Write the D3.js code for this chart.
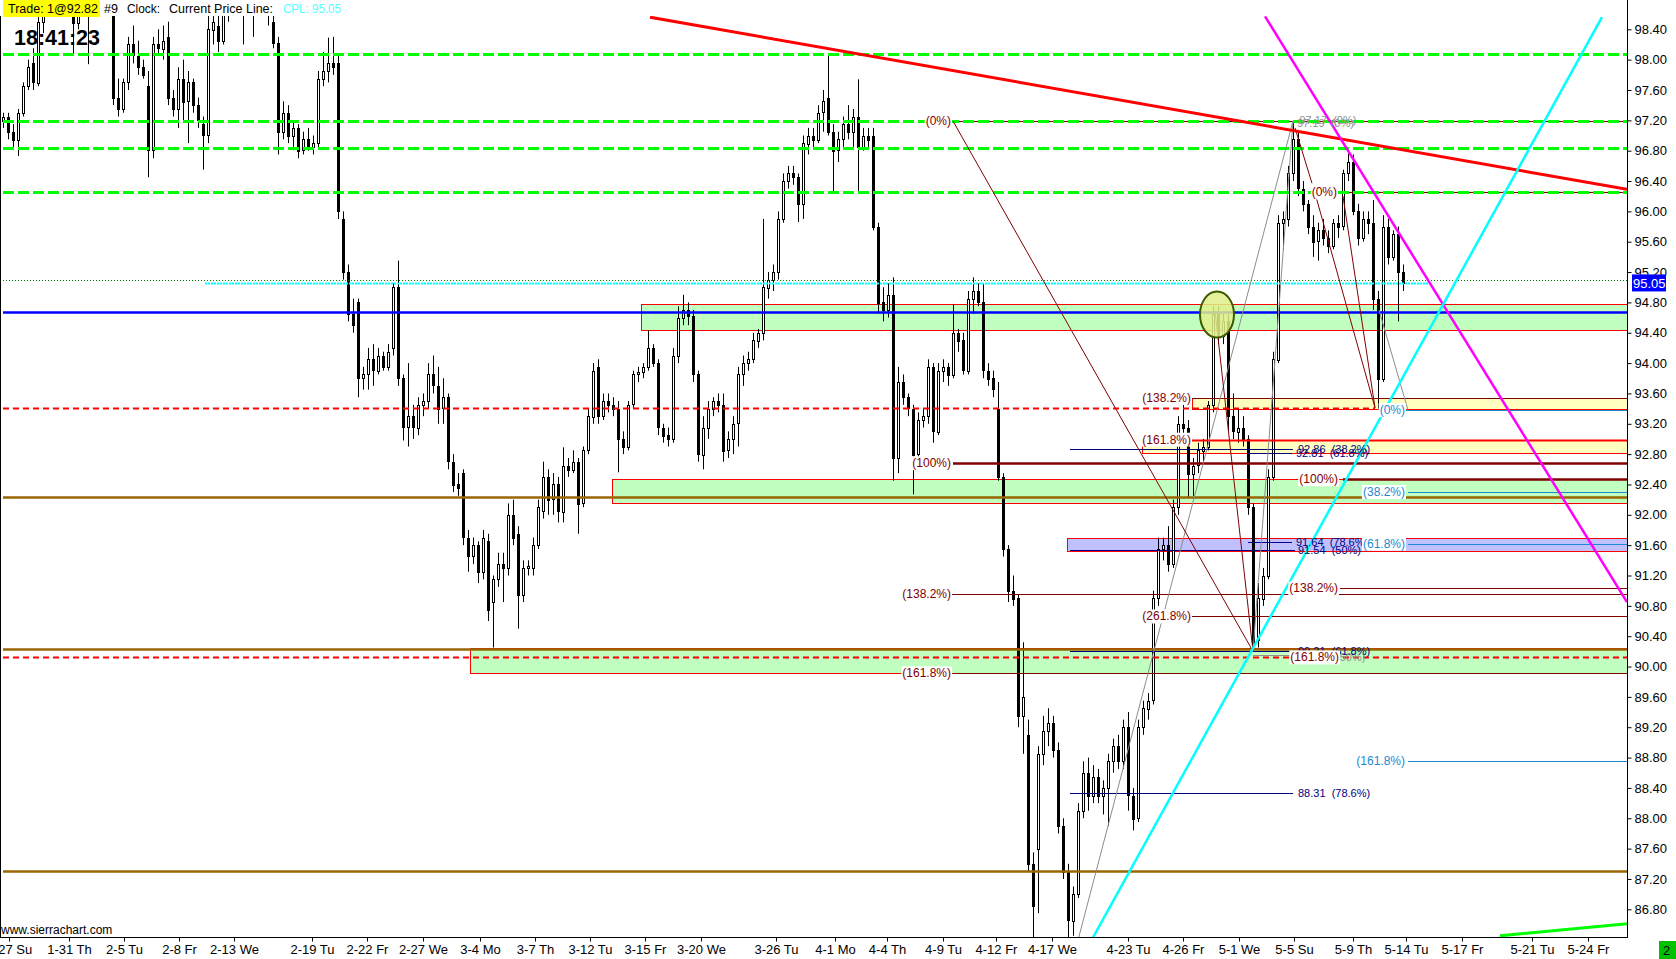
<!DOCTYPE html>
<meta charset="utf-8">
<script src="https://d3js.org/d3.v7.min.js"></script>
<style>
  body { margin: 0; background: #fff; }
  text { font-family: "Liberation Sans", Arial, sans-serif; }
</style>
<body>
<div id="chart"></div>
<script>

// candles, one per bar (prices)
var opens = [97.20,97.25,97.05,96.95,97.30,97.65,97.95,97.70,98.50,98.75,98.90,99.00,99.10,98.95,98.65,98.48,98.85,98.95,98.70,98.90,
99.05,99.00,98.80,97.50,97.35,97.70,98.20,98.05,97.90,97.65,96.80,98.20,98.15,98.30,97.50,97.35,97.75,97.45,97.70,97.40,
97.15,97.00,98.40,98.45,98.25,98.70,98.85,99.05,98.95,98.80,99.00,98.75,98.90,98.85,98.50,98.22,97.05,97.30,97.00,97.10,
96.80,96.95,96.85,96.90,97.75,97.85,97.95,97.95,95.90,95.20,94.65,94.80,93.80,93.85,94.05,93.90,94.10,93.95,94.20,95.00,
93.80,93.15,93.30,93.15,93.45,93.50,93.85,93.70,93.40,93.55,92.70,92.40,92.55,91.70,91.46,91.60,91.25,91.65,90.85,91.15,
91.35,91.30,92.00,91.75,90.95,91.30,91.30,91.60,92.05,92.50,92.20,92.40,92.05,92.65,92.60,92.70,92.15,92.85,93.30,93.95,
93.30,93.50,93.45,93.40,93.00,92.90,93.45,93.85,93.88,93.95,94.20,94.00,93.15,93.05,93.00,94.10,94.60,94.70,94.62,93.85,
92.80,93.15,93.40,93.50,93.45,92.85,93.00,93.20,93.85,94.00,94.05,94.30,94.40,95.00,95.10,95.20,95.90,96.40,96.50,96.45,
96.10,96.90,97.00,96.95,97.30,97.50,97.05,96.80,96.95,97.15,97.05,97.25,96.85,97.00,97.00,95.80,94.80,94.70,94.90,92.75,
93.75,93.55,93.40,92.80,93.25,93.30,93.95,93.10,93.90,93.95,93.85,94.40,94.30,93.90,94.85,94.95,94.80,93.90,93.80,93.40,
92.50,91.55,91.00,90.90,89.35,89.10,87.40,87.60,88.85,89.15,89.25,88.90,87.90,87.30,86.65,87.00,88.10,88.60,88.30,88.55,
88.30,88.40,88.75,88.95,88.75,89.20,88.30,88.00,89.20,89.45,89.55,90.90,91.55,91.60,91.35,92.10,93.20,93.15,92.55,92.65,
92.85,92.90,93.45,94.65,94.35,94.55,93.30,93.10,93.15,93.00,92.10,90.35,90.90,91.20,92.50,94.05,95.85,95.90,96.50,96.95,
96.30,96.10,95.80,95.60,95.75,95.65,95.55,95.85,95.80,96.50,96.65,96.00,95.65,95.90,95.85,94.85,93.80,95.80,95.40,95.70,
95.20]
var highs = [97.30,97.30,97.15,97.35,97.70,98.00,98.15,98.60,98.90,99.10,99.20,99.30,99.20,99.15,98.80,98.95,99.10,99.05,99.00,99.20,
99.30,99.10,98.90,97.75,97.75,98.30,98.45,98.25,98.00,97.85,98.30,98.40,98.45,98.50,97.60,97.90,98.00,97.85,97.75,97.50,
97.25,98.60,98.75,98.60,98.80,99.00,99.20,99.25,99.10,99.15,99.20,99.05,99.10,98.95,98.65,98.30,97.45,97.40,97.20,97.15,
97.05,97.10,97.00,97.85,98.10,98.29,98.30,98.05,96.00,95.30,94.85,94.85,93.95,94.20,94.25,94.20,94.15,94.25,95.05,95.35,
93.85,94.00,93.45,93.55,93.60,94.00,94.10,93.95,93.80,93.60,92.80,92.55,92.60,91.80,91.70,91.65,91.80,91.75,91.20,91.50,
91.50,92.15,92.20,91.85,91.40,91.40,91.70,92.20,92.70,92.60,92.55,92.50,92.89,92.75,92.85,92.75,92.90,93.40,94.00,94.05,
93.60,93.60,93.55,93.50,93.10,93.50,93.90,93.95,94.00,94.43,94.25,94.05,93.20,93.15,94.20,94.75,94.90,94.80,94.70,93.90,
93.30,93.50,93.55,93.60,93.60,93.10,93.30,93.95,94.10,94.15,94.40,94.45,95.90,95.20,95.30,96.00,96.50,96.60,96.60,96.50,
97.00,97.10,97.10,97.40,97.60,98.05,97.15,97.05,97.25,97.40,97.35,97.74,97.10,97.10,97.10,95.85,95.00,95.05,95.13,93.95,
93.85,93.60,93.45,93.35,93.40,94.05,94.00,94.00,94.05,94.00,94.78,94.45,94.40,94.95,95.13,95.05,95.05,94.00,93.90,93.75,
92.55,91.60,91.20,90.95,90.32,89.30,87.55,88.95,89.35,89.45,89.35,89.00,88.00,87.40,87.10,88.20,88.75,88.80,88.70,88.65,
88.50,88.85,89.05,89.10,89.30,89.40,88.40,89.30,89.55,89.65,91.00,91.70,91.70,91.85,92.20,93.30,93.45,93.25,92.75,92.95,
93.00,93.50,94.75,94.75,94.65,94.65,93.60,93.40,93.30,93.05,92.15,91.10,91.30,92.60,94.15,95.95,96.00,96.60,97.19,97.05,
96.40,96.15,95.95,95.85,95.90,95.75,95.90,95.95,96.55,96.76,96.75,96.10,96.00,96.00,96.15,94.95,95.95,95.90,95.75,95.80,
95.30]
var lows = [97.10,96.95,96.85,96.73,97.25,97.60,97.60,97.65,98.35,98.62,98.65,98.70,98.80,98.70,98.07,98.40,98.70,97.94,98.60,98.75,
98.85,98.60,97.40,97.25,97.30,97.60,97.95,97.80,97.75,96.45,96.70,98.05,98.00,97.40,97.25,97.10,97.20,96.90,97.30,97.10,
96.55,96.90,98.20,98.10,98.20,98.50,98.70,98.80,98.20,98.65,98.30,98.60,98.70,98.45,98.15,96.75,96.95,96.90,96.85,96.70,
96.75,96.80,96.75,96.85,97.65,97.70,97.80,95.90,95.10,94.55,94.40,93.55,93.65,93.65,93.70,93.85,93.90,93.90,94.10,93.70,
92.98,92.90,93.00,93.05,93.30,93.40,93.60,93.20,93.20,92.60,92.30,92.25,91.60,91.25,91.35,91.10,91.15,90.60,90.25,91.05,
90.85,91.20,91.60,90.50,90.85,91.20,91.20,91.55,91.95,92.00,92.00,91.90,91.90,92.50,92.55,91.75,92.10,92.80,93.20,93.20,
93.25,93.35,93.30,92.56,92.80,92.85,93.40,93.75,93.80,93.90,93.95,93.05,92.95,92.90,92.95,94.00,94.50,94.50,93.75,92.70,
92.60,93.00,93.30,93.35,92.70,92.75,92.80,92.90,93.70,93.90,94.00,94.20,94.30,94.85,94.95,95.10,95.85,96.30,96.35,95.86,
95.90,96.75,96.85,96.90,97.05,97.00,96.23,96.65,96.85,96.95,96.85,96.27,96.80,96.85,95.75,94.65,94.55,94.60,92.45,92.55,
93.45,93.30,92.27,92.70,93.15,93.20,92.95,93.05,93.75,93.70,93.80,94.15,93.85,93.85,94.65,94.75,93.80,93.70,93.55,92.45,
91.45,90.85,90.80,89.20,88.85,87.30,86.20,86.75,88.70,88.95,88.80,87.80,87.20,85.89,86.45,86.95,88.00,88.10,88.20,88.20,
88.05,87.90,88.60,88.65,88.65,88.10,87.84,87.95,89.10,89.30,89.50,90.80,91.40,91.25,91.30,92.00,93.05,92.22,92.25,92.55,
92.70,92.85,93.35,94.25,94.25,93.10,93.00,92.95,92.90,92.00,90.20,90.25,90.80,91.15,92.45,94.00,95.50,95.80,96.40,96.20,
96.00,95.70,95.40,95.35,95.55,95.45,95.50,95.65,95.75,96.40,95.95,95.55,95.60,95.70,94.70,93.40,93.75,95.30,95.35,94.55,
94.95]
var closes = [97.25,97.05,96.95,97.30,97.65,97.90,97.70,98.50,98.75,98.90,99.00,99.10,98.95,99.05,98.48,98.85,98.95,98.70,98.90,99.05,
99.00,98.80,97.50,97.35,97.70,98.20,98.05,97.90,97.80,96.80,98.20,98.15,98.25,97.50,97.35,97.75,97.45,97.70,97.40,97.20,
97.00,98.40,98.50,98.25,98.70,98.85,99.05,98.95,98.80,99.00,98.75,98.90,98.85,98.60,98.22,97.05,97.30,97.00,97.10,96.80,
96.95,96.85,96.90,97.75,97.85,97.95,97.90,96.00,95.20,94.65,94.50,93.80,93.85,94.05,93.90,94.10,93.95,94.15,95.00,93.80,
93.15,93.30,93.15,93.45,93.50,93.85,93.70,93.40,93.55,92.70,92.40,92.35,91.70,91.46,91.60,91.25,91.70,90.74,91.15,91.35,
91.30,92.00,91.70,90.95,91.30,91.32,91.60,92.10,92.50,92.20,92.40,92.05,92.65,92.60,92.70,92.15,92.85,93.30,93.90,93.30,
93.50,93.45,93.40,93.00,92.90,93.45,93.85,93.88,93.95,94.20,94.00,93.15,93.05,93.00,94.10,94.60,94.70,94.62,93.85,92.80,
93.15,93.40,93.50,93.45,92.85,93.00,93.20,93.85,94.00,94.05,94.30,94.40,95.00,95.10,95.20,95.90,96.40,96.50,96.45,96.10,
96.90,97.00,96.95,97.30,97.45,97.05,96.80,96.95,97.15,97.05,97.25,96.85,97.00,96.95,95.80,94.80,94.70,94.90,92.75,93.75,
93.55,93.40,92.80,93.25,93.30,93.95,93.10,93.90,93.95,93.85,94.40,94.30,93.90,94.85,94.95,94.80,93.90,93.80,93.65,92.50,
91.55,91.00,90.90,89.35,89.60,87.40,86.85,88.85,89.15,89.25,88.90,87.90,87.30,86.65,87.00,88.10,88.60,88.30,88.55,88.30,
88.40,88.75,88.95,88.75,89.20,88.30,88.00,89.20,89.45,89.55,90.90,91.55,91.60,91.35,92.10,93.20,93.15,92.55,92.65,92.85,
92.90,93.45,94.65,94.35,94.55,93.30,93.10,93.15,93.00,92.10,90.30,90.90,91.20,92.50,94.05,95.85,95.90,96.50,96.95,96.30,
96.10,95.80,95.60,95.75,95.65,95.55,95.85,95.80,96.50,96.65,96.00,95.65,95.90,95.85,94.85,93.80,95.80,95.40,95.70,95.20,
95.05]

// axis ticks
var priceTicks = [86.8,87.2,87.6,88.0,88.4,88.8,89.2,89.6,90.0,90.4,90.8,91.2,91.6,92.0,92.4,92.8,93.2,93.6,94.0,94.4,94.8,95.2,95.6,96.0,96.4,96.8,97.2,97.6,98.0,98.4]
var dateLabels = ["1-27 Su","1-31 Th","2-5 Tu","2-8 Fr","2-13 We","2-19 Tu","2-22 Fr","2-27 We","3-4 Mo","3-7 Th","3-12 Tu","3-15 Fr","3-20 We","3-26 Tu","4-1 Mo","4-4 Th","4-9 Tu","4-12 Fr","4-17 We","4-23 Tu","4-26 Fr","5-1 We","5-5 Su","5-9 Th","5-14 Tu","5-17 Fr","5-21 Tu","5-24 Fr"]
var dateBars = [1.2,13.2,24.2,35.2,46.2,61.8,72.8,84,95.4,106.4,117.4,128.4,139.6,154.6,166.4,176.8,188,198.6,209.8,225,236,247.2,258.2,270,280.6,291.8,305.8,317]

// drawing objects: [start bar, top price, bottom price]
var greenZones = [[127.6,94.78,94.43],[121.8,92.47,92.16],[93.4,90.24,89.91]]
var yellowZones = [[237.8,93.54,93.39],[227.8,92.99,92.82]]
var blueZones = [[212.8,91.69,91.52]]

// horizontal lines: [start bar, end bar, price]
var greenDashLevels = [98.07, 97.19, 96.83, 96.25]
var blueLines = [[0,325,94.67]]
var brownLines = [[0,325,92.23],[0,325,90.23],[0,325,87.31]]
var redDashLines = [[0,274.4,93.41],[0,325,90.12]]
var redThickLines = [[237.8,325,92.99]]
var darkRedThin = [[190,325,97.19],[267.2,325,96.25],[267.4,325,91.03],[189.6,325,90.96],[237.8,325,90.66],[190,325,89.91],[237.8,325,93.54]]
var darkRedThick = [[190,325,92.68],[268,325,92.47]]
var navyLines = [[213.4,258,92.87],[249,257.8,92.82],[249,257.8,91.64],[213.4,258.4,91.54],[213.4,257.4,90.21],[213.4,258,88.33]]
var lightBlueLines = [[280.6,325,93.38],[281,325,92.30],[281,325,91.62],[281,325,88.76]]
var grayFlat = [[250,257.4,90.15]]
var cyanPriceLine = [[40.4,285.8,95.06]]
var dottedLine = [[0,325,95.10]]

// sloped lines: [[bar, price], [bar, price]]
var redTrend = [[[129.4,98.56],[324.8,96.29]]]
var magentaTrend = [[[252.4,98.57],[324.8,90.85]]]
var cyanTrend = [[[216,86.19],[319.8,98.56]]]
var limeTrend = [[[299.4,86.45],[324.8,86.61]]]
var grayDiag = [[[213,85.89],[258,97.19]],[[250,90.20],[258,97.19]],[[275.2,94.70],[281,93.38]]]
var darkRedDiag = [[[190,97.19],[250,90.20]],[[242.4,94.69],[250,90.20]],[[258.4,97.10],[261.8,96.37]],[[262.4,96.24],[274.4,93.41]],[[268,96.20],[274.4,93.41]]]
var ellipses = [[242.8,94.64]]

// labels: [bar, price, text]
var darkRedEndLabels = [[189.6,97.19,"(0%)"],[189.6,92.68,"(100%)"],[189.6,90.96,"(138.2%)"],[189.6,89.91,"(161.8%)"],
  [266.8,96.25,"(0%)"],[237.6,93.54,"(138.2%)"],[237.6,92.99,"(161.8%)"],[237.6,90.66,"(261.8%)"],
  [267,92.47,"(100%)"],[267,91.03,"(138.2%)"],[267.2,90.12,"(161.8%)"]]
var lightBlueEndLabels = [[280.4,93.38,"(0%)"],[280.4,92.30,"(38.2%)"],[280.4,91.62,"(61.8%)"],[280.4,88.76,"(161.8%)"]]
var navyStartLabels = [[259,92.87,"92.86  (38.2%)"],[258.6,92.82,"92.81  (61.8%)"],[258.6,91.64,"91.64  (78.6%)"],[259,91.54,"91.54  (50%)"],[259,90.21,"90.21  (61.8%)"],[259,88.33,"88.31  (78.6%)"]]
var grayStartLabels = [[258.8,97.17,"97.19  (0%)"],[259.3,97.20,"97.17  (0%)"],[266.6,90.12,"(50%)"]]

var lastPrice = 95.05

var width = 1676, height = 959
var plotRight = 1627, plotTop = 16, plotBottom = 937

var svg = d3.select("#chart")
  .append("svg")
    .attr("width", width)
    .attr("height", height)

var x = d3.scaleLinear().domain([0, 280]).range([3, 1403])
var y = d3.scaleLinear().domain([86.8, 98.4]).range([909.3, 29.3])

svg.append("clipPath").attr("id", "plotclip")
  .append("rect").attr("x", 0).attr("y", plotTop).attr("width", plotRight).attr("height", plotBottom - plotTop)

var plot = svg.append("g").attr("clip-path", "url(#plotclip)")

// zones under the candles
function drawZones(list, fill) {
  plot.selectAll(null).data(list).enter().append("rect")
    .attr("x", function(d){ return Math.round(x(d[0])) + 0.5 })
    .attr("y", function(d){ return Math.round(y(d[1])) + 0.5 })
    .attr("width", function(d){ return plotRight + 5 - x(d[0]) })
    .attr("height", function(d){ return Math.round(y(d[2])) - Math.round(y(d[1])) })
    .style("fill", fill)
    .attr("stroke", "#ff0000")
    .attr("stroke-width", 1)
}
drawZones(greenZones, "#c0ffc0")
drawZones(yellowZones, "#ffffc0")
drawZones(blueZones, "#c0c0ff")

// candles
var bars = opens.map(function(o, i){ return {i: i, o: o, h: highs[i], l: lows[i], c: closes[i]} })
var candle = plot.selectAll(".candle").data(bars).enter().append("g").attr("class", "candle")
candle.append("line")
  .attr("x1", function(d){ return Math.round(x(d.i)) + 0.5 })
  .attr("x2", function(d){ return Math.round(x(d.i)) + 0.5 })
  .attr("y1", function(d){ return y(d.h) })
  .attr("y2", function(d){ return y(d.l) })
  .attr("stroke", "#000")
  .attr("stroke-width", 1)
candle.append("rect")
  .attr("x", function(d){ return Math.round(x(d.i)) - 0.5 })
  .attr("width", 2)
  .attr("y", function(d){ return Math.round(y(Math.max(d.o, d.c))) + 0.5 })
  .attr("height", function(d){ return Math.max(1, Math.round(Math.abs(y(d.o) - y(d.c)))) })
  .style("fill", function(d){ return d.c >= d.o ? "#fff" : "#000" })
  .attr("stroke", "#000")
  .attr("stroke-width", 1)

// horizontal lines
function drawFlat(list, color, w, dash) {
  plot.selectAll(null).data(list).enter().append("line")
    .attr("x1", function(d){ return x(d[0]) })
    .attr("x2", function(d){ return x(d[1]) })
    .attr("y1", function(d){ return Math.round(y(d[2])) + 0.5 })
    .attr("y2", function(d){ return Math.round(y(d[2])) + 0.5 })
    .attr("stroke", color)
    .attr("stroke-width", w)
    .style("stroke-dasharray", dash || null)
}
drawFlat(dottedLine, "#008000", 1, "1,2")
drawFlat(darkRedThin, "#800000", 1)
drawFlat(darkRedThick, "#800000", 2.5)
drawFlat(redThickLines, "#ff0000", 2)
drawFlat(greenDashLevels.map(function(p){ return [0, 325, p] }), "#00ff00", 3, "11,4")
drawFlat(blueLines, "#0000ff", 2.5)
drawFlat(brownLines, "#996600", 2.5)
drawFlat(redDashLines, "#ff0000", 2, "6,4")
drawFlat(navyLines, "#000080", 1)
drawFlat(lightBlueLines, "#1e88d0", 1)
drawFlat(grayFlat, "#909090", 1)
drawFlat(cyanPriceLine, "#00ffff", 2, "2,1")

// sloped lines
function drawDiag(list, color, w) {
  plot.selectAll(null).data(list).enter().append("line")
    .attr("x1", function(d){ return x(d[0][0]) })
    .attr("y1", function(d){ return y(d[0][1]) })
    .attr("x2", function(d){ return x(d[1][0]) })
    .attr("y2", function(d){ return y(d[1][1]) })
    .attr("stroke", color)
    .attr("stroke-width", w)
}
drawDiag(grayDiag, "#8c8c8c", 1)
drawDiag(darkRedDiag, "#800000", 1)
drawDiag(redTrend, "#ff0000", 3)
drawDiag(magentaTrend, "#ff00ff", 2.5)
drawDiag(cyanTrend, "#00ffff", 2.5)
drawDiag(limeTrend, "#00ff00", 3)

plot.selectAll(null).data(ellipses).enter().append("ellipse")
  .attr("cx", function(d){ return x(d[0]) })
  .attr("cy", function(d){ return y(d[1]) })
  .attr("rx", 17)
  .attr("ry", 23)
  .style("fill", "#e2f08a")
  .style("fill-opacity", 0.85)
  .attr("stroke", "#3c5a00")
  .attr("stroke-width", 2)

// labels
function drawLabels(list, color, anchor, bg, size) {
  var g = svg.selectAll(null).data(list).enter().append("g")
  var t = g.append("text")
    .attr("x", function(d){ return x(d[0]) })
    .attr("y", function(d){ return y(d[1]) + 4 })
    .attr("text-anchor", anchor)
    .style("font-size", size)
    .style("fill", color)
    .style("white-space", "pre")
    .text(function(d){ return d[2] })
  if (bg) {
    t.each(function(){
      var b = this.getBBox()
      d3.select(this.parentNode).insert("rect", "text")
        .attr("x", b.x - 1).attr("y", b.y).attr("width", b.width + 2).attr("height", b.height)
        .style("fill", "#fff")
    })
  }
}
drawLabels(grayStartLabels, "#909090", "start", false, "11px")
drawLabels(navyStartLabels, "#000080", "start", false, "11px")
drawLabels(darkRedEndLabels, "#800000", "end", true, "12px")
drawLabels(lightBlueEndLabels, "#1e88d0", "end", true, "12px")

// axes
svg.append("line").attr("x1", 0.5).attr("x2", 0.5).attr("y1", plotTop).attr("y2", plotBottom).attr("stroke", "#000")
svg.append("line").attr("x1", plotRight + 0.5).attr("x2", plotRight + 0.5).attr("y1", 0).attr("y2", plotBottom).attr("stroke", "#000")
svg.append("line").attr("x1", 0).attr("x2", plotRight + 1).attr("y1", plotBottom + 0.5).attr("y2", plotBottom + 0.5).attr("stroke", "#000")

var yAxis = svg.append("g")
  .attr("transform", "translate(" + (plotRight + 0.5) + ",0)")
  .call(d3.axisRight(y).tickValues(priceTicks).tickFormat(d3.format(".2f")).tickSize(4).tickSizeOuter(0))
yAxis.select(".domain").remove()
yAxis.selectAll("text").style("font-size", "13px").style("fill", "#000").attr("x", 7)

var xAxis = svg.append("g")
  .attr("transform", "translate(0," + (plotBottom + 0.5) + ")")
  .call(d3.axisBottom(x).tickValues(dateBars).tickFormat(function(d, i){ return dateLabels[i] }).tickSize(4).tickSizeOuter(0))
xAxis.select(".domain").remove()
xAxis.selectAll("text").style("font-size", "13px").style("fill", "#000").attr("y", 7)

// last price marker
svg.append("rect").attr("x", plotRight + 5).attr("y", y(lastPrice) - 9).attr("width", 34).attr("height", 17).style("fill", "#0000ff")
svg.append("text").attr("x", plotRight + 6).attr("y", y(lastPrice) + 5).text(lastPrice.toFixed(2))
  .style("font-size", "13px").style("fill", "#fff")

// header
function headerText(xp, w, txt, color) {
  svg.append("text").attr("x", xp).attr("y", 13).text(txt)
    .attr("textLength", w).attr("lengthAdjust", "spacingAndGlyphs")
    .style("font-size", "13px").style("fill", color)
}
svg.append("rect").attr("x", 3).attr("y", 0).attr("width", 97).attr("height", 17).style("fill", "#ffff00")
headerText(8, 90, "Trade: 1@92.82", "#000")
headerText(104, 14, "#9", "#000")
headerText(127, 33, "Clock:", "#000")
headerText(169, 104, "Current Price Line:", "#000")
headerText(283, 58, "CPL: " + lastPrice.toFixed(2), "#55ffff")
svg.append("text").attr("x", 14).attr("y", 45).text("18:41:23")
  .attr("textLength", 86).attr("lengthAdjust", "spacingAndGlyphs")
  .style("font-size", "22px").style("font-weight", "bold").style("fill", "#000")

svg.append("text").attr("x", 1).attr("y", 934).text("www.sierrachart.com").style("font-size", "12px").style("fill", "#000")

svg.append("rect").attr("x", 1659).attr("y", 941).attr("width", 17).attr("height", 18).style("fill", "#00c000")
svg.append("text").attr("x", 1663).attr("y", 955).text("2").style("font-size", "13px").style("fill", "#000")

</script>
</body>
